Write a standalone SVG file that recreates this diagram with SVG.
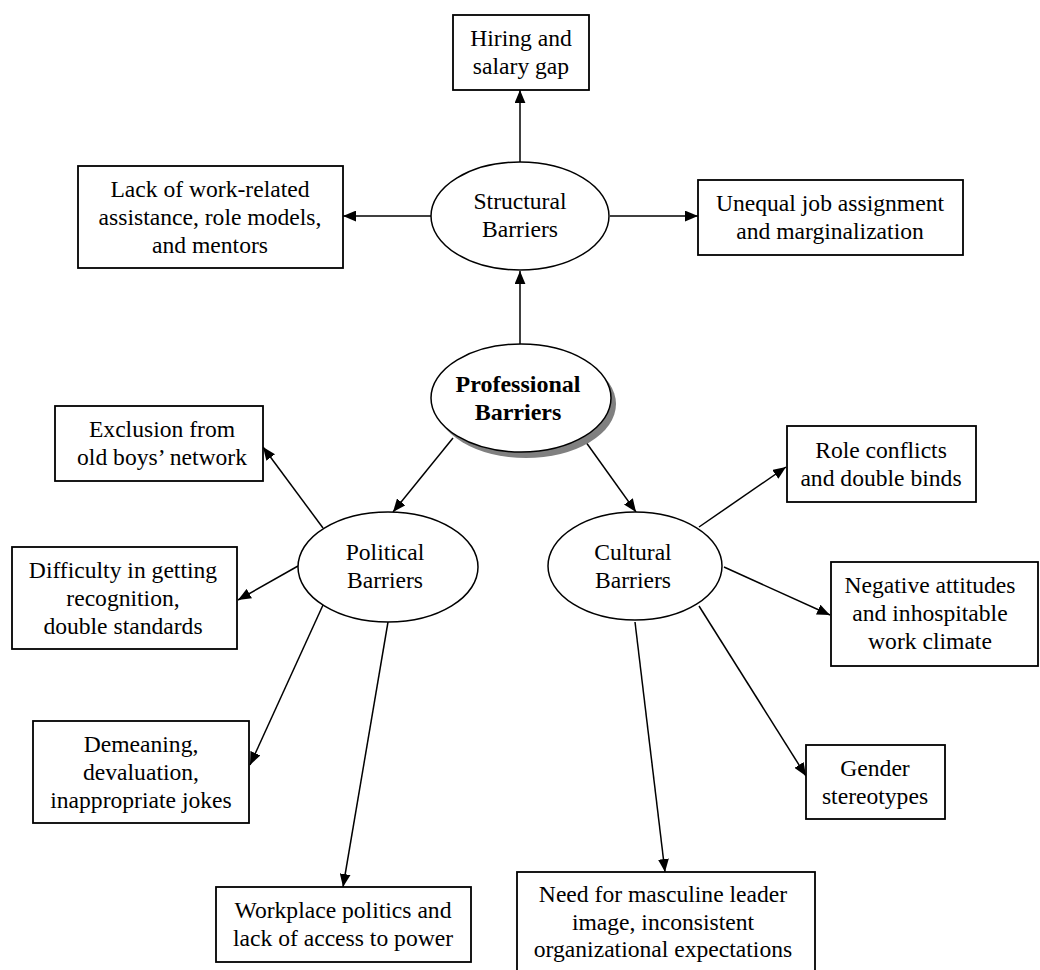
<svg xmlns="http://www.w3.org/2000/svg" width="1040" height="970" viewBox="0 0 1040 970">
<style>
.box{fill:#fff;stroke:#000;stroke-width:1.8}
.ell{fill:#fff;stroke:#000;stroke-width:1.5}
.t{font-family:"Liberation Serif","Times New Roman",serif;font-size:23.6px;fill:#000;text-anchor:middle}
.b{font-weight:bold;font-size:24px}
.c{stroke:#000;stroke-width:1.5;fill:none;marker-end:url(#ah)}
</style>
<defs>
<marker id="ah" viewBox="0 0 12 10" refX="12" refY="5" markerWidth="13" markerHeight="11" markerUnits="userSpaceOnUse" orient="auto">
<path d="M0,0 L12,5 L0,10 z" fill="#000"/>
</marker>
</defs>
<rect width="1040" height="970" fill="#fff"/>
<g id="connectors">
<line class="c" x1="520" y1="162" x2="520" y2="90"/>
<line class="c" x1="431" y1="216" x2="343" y2="216"/>
<line class="c" x1="610" y1="216" x2="698" y2="216"/>
<line class="c" x1="520" y1="344" x2="520" y2="271"/>
<line class="c" x1="453" y1="438" x2="393" y2="512"/>
<line class="c" x1="583" y1="438" x2="636" y2="512"/>
<line class="c" x1="323" y1="528" x2="263" y2="447"/>
<line class="c" x1="298" y1="566" x2="238" y2="600"/>
<line class="c" x1="323" y1="605" x2="250" y2="765"/>
<line class="c" x1="388" y1="622" x2="343" y2="887"/>
<line class="c" x1="699" y1="527" x2="786" y2="467"/>
<line class="c" x1="724" y1="567" x2="830" y2="615"/>
<line class="c" x1="699" y1="606" x2="806" y2="776"/>
<line class="c" x1="635" y1="622" x2="665" y2="872"/>
</g>
<g id="hiring">
<rect class="box" x="453" y="15" width="136" height="75"/>
<text class="t" x="521" y="46">Hiring and</text>
<text class="t" x="521" y="74">salary gap</text>
</g>
<g id="lack">
<rect class="box" x="78" y="166" width="265" height="102"/>
<text class="t" x="210" y="197">Lack of work-related</text>
<text class="t" x="210" y="225">assistance, role models,</text>
<text class="t" x="210" y="253">and mentors</text>
</g>
<g id="unequal">
<rect class="box" x="698" y="180" width="265" height="75"/>
<text class="t" x="830" y="211">Unequal job assignment</text>
<text class="t" x="830" y="239">and marginalization</text>
</g>
<g id="structural">
<ellipse class="ell" cx="520" cy="216" rx="89" ry="54"/>
<text class="t" x="520" y="209">Structural</text>
<text class="t" x="520" y="237">Barriers</text>
</g>
<g id="professional">
<ellipse cx="526" cy="404" rx="90" ry="54" fill="#808080"/>
<ellipse class="ell" cx="521" cy="398" rx="90" ry="54"/>
<text class="t b" x="518" y="392">Professional</text>
<text class="t b" x="518" y="420">Barriers</text>
</g>
<g id="political">
<ellipse class="ell" cx="388" cy="567" rx="90" ry="55"/>
<text class="t" x="385" y="560">Political</text>
<text class="t" x="385" y="588">Barriers</text>
</g>
<g id="cultural">
<ellipse class="ell" cx="635" cy="566" rx="87" ry="54"/>
<text class="t" x="633" y="560">Cultural</text>
<text class="t" x="633" y="588">Barriers</text>
</g>
<g id="exclusion">
<rect class="box" x="55" y="406" width="208" height="75"/>
<text class="t" x="162" y="437">Exclusion from</text>
<text class="t" x="162" y="465">old boys’ network</text>
</g>
<g id="difficulty">
<rect class="box" x="12" y="547" width="225" height="102"/>
<text class="t" x="123" y="578">Difficulty in getting</text>
<text class="t" x="123" y="606">recognition,</text>
<text class="t" x="123" y="634">double standards</text>
</g>
<g id="demeaning">
<rect class="box" x="33" y="721" width="216" height="102"/>
<text class="t" x="141" y="752">Demeaning,</text>
<text class="t" x="141" y="780">devaluation,</text>
<text class="t" x="141" y="808">inappropriate jokes</text>
</g>
<g id="workplace">
<rect class="box" x="216" y="887" width="255" height="75"/>
<text class="t" x="343" y="918">Workplace politics and</text>
<text class="t" x="343" y="946">lack of access to power</text>
</g>
<g id="role">
<rect class="box" x="787" y="426" width="189" height="76"/>
<text class="t" x="881" y="458">Role conflicts</text>
<text class="t" x="881" y="486">and double binds</text>
</g>
<g id="negative">
<rect class="box" x="831" y="562" width="207" height="104"/>
<text class="t" x="930" y="593">Negative attitudes</text>
<text class="t" x="930" y="621">and inhospitable</text>
<text class="t" x="930" y="649">work climate</text>
</g>
<g id="gender">
<rect class="box" x="806" y="745" width="139" height="74"/>
<text class="t" x="875" y="776">Gender</text>
<text class="t" x="875" y="804">stereotypes</text>
</g>
<g id="need">
<rect class="box" x="517" y="872" width="298" height="110"/>
<text class="t" x="663" y="902">Need for masculine leader</text>
<text class="t" x="663" y="930">image, inconsistent</text>
<text class="t" x="663" y="957">organizational expectations</text>
</g>
</svg>
